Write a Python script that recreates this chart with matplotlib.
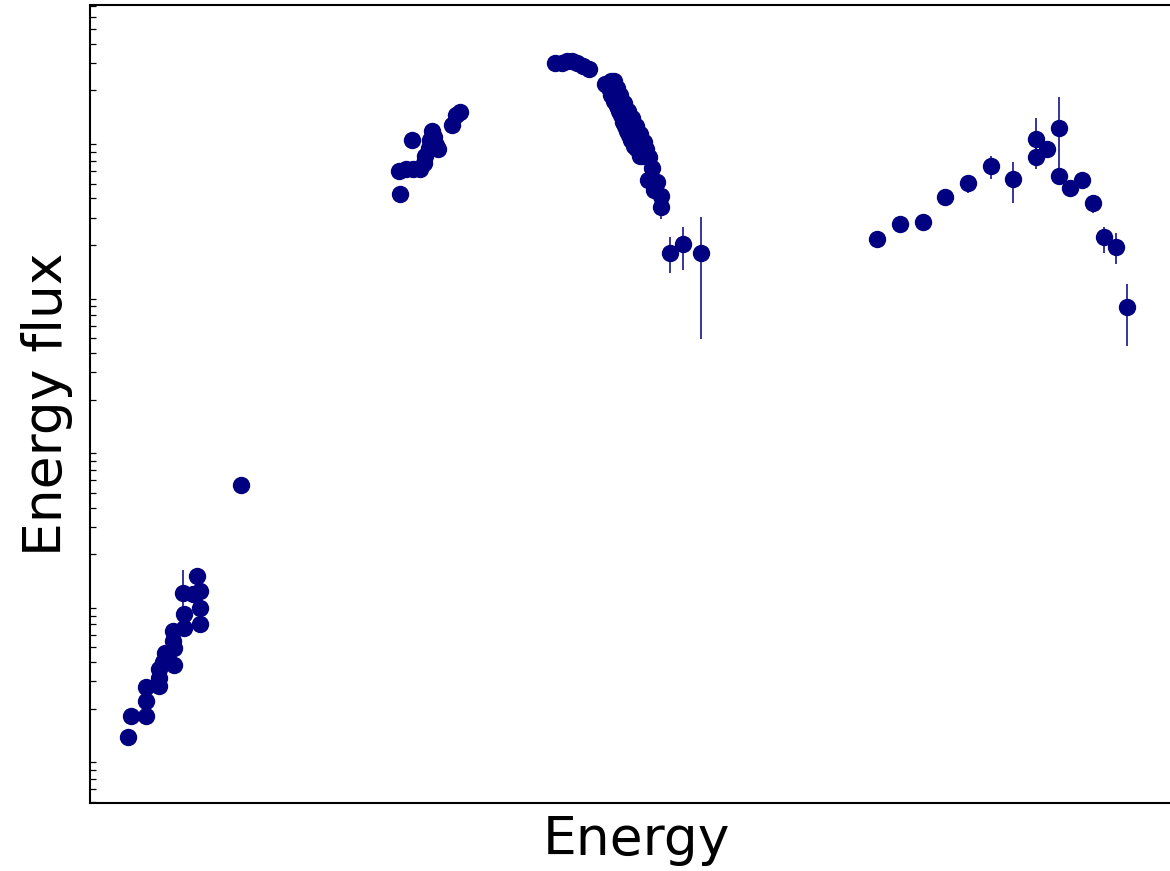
import matplotlib
matplotlib.use("Agg")
import matplotlib.pyplot as plt
import numpy as np

# SED points, stored as log10(frequency) and log10(energy flux)
# radio
radio_lx = [9.02, 9.07, 9.32, 9.32, 9.32, 9.53, 9.53, 9.53, 9.60, 9.63, 9.78,
            9.78, 9.77, 9.77, 9.95, 9.95, 9.93, 10.10, 10.22, 10.22, 10.22, 10.17]
radio_ly = [-14.88, -14.75, -14.75, -14.65, -14.56, -14.55, -14.50, -14.44, -14.40, -14.34, -14.42,
            -14.31, -14.26, -14.20, -14.18, -14.09, -13.95, -13.96, -13.94, -14.05, -14.15, -13.84]
radio_lo = [0, 0, 0, 0, 0, 0, 0, 0, 0, 0, 0, 0, 0, 0, 0, 0, 0.10, 0, 0, 0, 0, 0]
radio_hi = [0, 0, 0, 0, 0, 0, 0, 0, 0, 0, 0, 0, 0, 0, 0, 0, 0.15, 0, 0, 0, 0, 0]

# mm
mm_lx = [10.90]
mm_ly = [-13.25]

# infrared / optical
ir_lx = [13.55, 13.53, 13.65, 13.77, 13.88, 13.95, 13.75, 13.97, 14.03, 14.05, 14.08,
         14.15, 14.18, 14.12, 14.42, 14.48, 14.55]
ir_ly = [-11.37, -11.22, -11.21, -11.21, -11.21, -11.17, -11.02, -11.12, -11.07, -11.02, -10.96,
         -11.05, -11.08, -11.00, -10.92, -10.86, -10.84]

# X-ray
xr_lx = [16.13, 16.25, 16.33, 16.42, 16.50, 16.60, 16.70,
         16.97, 17.07, 17.12, 17.03, 17.10, 17.15, 17.07, 17.18, 17.12, 17.22,
         17.17, 17.25, 17.20, 17.28, 17.23, 17.32, 17.27, 17.35, 17.30, 17.38,
         17.33, 17.42, 17.37, 17.45, 17.40, 17.48, 17.45, 17.52, 17.50, 17.57,
         17.17, 17.22, 17.28, 17.35, 17.42, 17.48, 17.55, 17.62, 17.65,
         17.60, 17.55, 17.70, 17.75, 17.68, 17.83, 17.78, 17.90, 17.90,
         18.05, 18.27, 18.57]
xr_ly = [-10.52, -10.52, -10.51, -10.51, -10.52, -10.54, -10.56,
         -10.66, -10.64, -10.64, -10.68, -10.70, -10.72, -10.73, -10.75, -10.77, -10.78,
         -10.80, -10.81, -10.83, -10.84, -10.86, -10.88, -10.90, -10.91, -10.93, -10.94,
         -10.96, -10.97, -10.99, -11.01, -11.02, -11.03, -11.06, -11.05, -11.08, -11.07,
         -10.68, -10.73, -10.78, -10.83, -10.88, -10.93, -10.98, -11.03, -11.08,
         -11.12, -11.12, -11.13, -11.20, -11.28, -11.29, -11.34, -11.38, -11.45,
         -11.75, -11.69, -11.75]
xr_lo = [0] * 54 + [0.08, 0.13, 0.17, 0.56]
xr_hi = [0] * 54 + [0.05, 0.10, 0.11, 0.23]

# gamma-ray
gr_lx = [21.50, 21.88, 22.27, 22.63, 23.02, 23.40, 23.77, 24.15, 24.15, 24.33,
         24.53, 24.53, 24.72, 24.92, 25.10, 25.28, 25.48, 25.67]
gr_ly = [-11.66, -11.56, -11.55, -11.39, -11.30, -11.19, -11.27, -11.01, -11.13, -11.08,
         -10.94, -11.25, -11.33, -11.28, -11.43, -11.65, -11.71, -12.10]
gr_lo = [0.06, 0.03, 0.03, 0.03, 0.06, 0.08, 0.16, 0.14, 0.08, 0.04,
         0.31, 0.05, 0.03, 0.03, 0.06, 0.10, 0.11, 0.25]
gr_hi = [0.04, 0.03, 0.03, 0.03, 0.05, 0.07, 0.11, 0.13, 0.08, 0.04,
         0.20, 0.05, 0.03, 0.03, 0.05, 0.07, 0.09, 0.15]

color = '#000080'

fig = plt.figure(figsize=(11.7, 8.71), dpi=100)
ax = fig.add_axes([90 / 1170, 68.5 / 871, 1092 / 1170, 797 / 871])


def plot_band(lx, ly, lo=None, hi=None):
    lx = np.asarray(lx)
    ly = np.asarray(ly)
    x = 10 ** lx
    y = 10 ** ly
    if lo is None:
        ax.plot(x, y, 'o', color=color, markersize=11.5)
        return
    lo = np.asarray(lo)
    hi = np.asarray(hi)
    yerr = [y - 10 ** (ly - lo), 10 ** (ly + hi) - y]
    ax.errorbar(x, y, yerr=yerr, fmt='o', color=color, markersize=11.5,
                elinewidth=1.1, capsize=0)


plot_band(radio_lx, radio_ly, radio_lo, radio_hi)
plot_band(mm_lx, mm_ly)
plot_band(ir_lx, ir_ly)
plot_band(xr_lx, xr_ly, xr_lo, xr_hi)
plot_band(gr_lx, gr_ly, gr_lo, gr_hi)

ax.set_xscale('log')
ax.set_yscale('log')
ax.set_xlim(10 ** 8.383, 10 ** 26.583)
ax.set_ylim(10 ** -15.307, 10 ** -10.149)
ax.set_xticks([])
ax.set_yticks([])
ax.tick_params(which='minor', direction='in', length=4, width=0.9)
for s in ax.spines.values():
    s.set_linewidth(1.5)

ax.set_xlabel('Energy', fontsize=38.5, labelpad=8)
ax.set_ylabel('Energy flux', fontsize=38.5, labelpad=9)

fig.savefig('out.png', dpi=100)
